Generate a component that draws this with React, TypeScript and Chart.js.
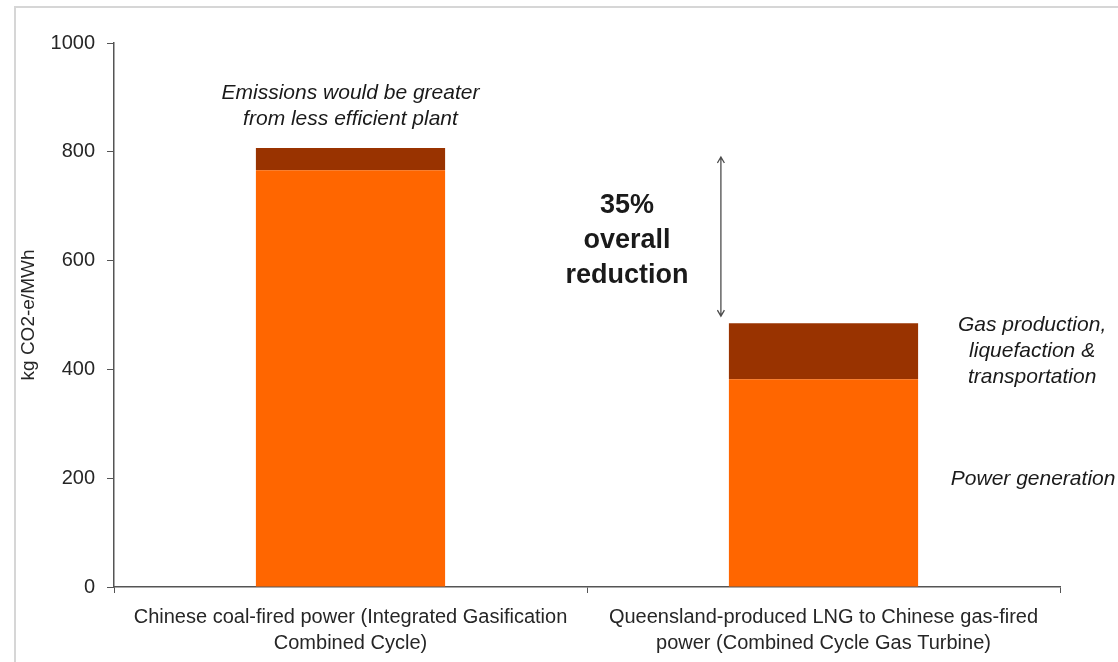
import React, { useEffect, useRef } from 'react';
import { Chart, registerables } from 'chart.js';

Chart.register(...registerables);

const categories = [
  ['Chinese coal-fired power (Integrated Gasification', 'Combined Cycle)'],
  ['Queensland-produced LNG to Chinese gas-fired', 'power (Combined Cycle Gas Turbine)'],
];
const seriesNames = ['Power generation', 'Gas production, liquefaction & transportation'];
const powerGeneration = [766, 382];
const supplyChain = [41, 103];
const yTickValues = [0, 200, 400, 600, 800, 1000];
const yAxisTitle = 'kg CO2-e/MWh';
const coalNote = ['Emissions would be greater', 'from less efficient plant'];
const reductionNote = ['35%', 'overall', 'reduction'];
const gasNote = ['Gas production,', 'liquefaction &', 'transportation'];
const powerNote = ['Power generation'];

const FONT = "'Liberation Sans', Arial, sans-serif";

const annotationPlugin = {
  id: 'annotations',
  beforeDraw(chart: any) {
    const ctx = chart.ctx;
    ctx.save();
    ctx.strokeStyle = '#d6d6d6';
    ctx.lineWidth = 2;
    ctx.beginPath();
    ctx.moveTo(15, chart.height);
    ctx.lineTo(15, 7);
    ctx.lineTo(chart.width, 7);
    ctx.stroke();
    ctx.restore();
  },
  afterDraw(chart: any) {
    const ctx = chart.ctx;
    const y = chart.scales.y;
    const x = chart.scales.x;
    const totals = powerGeneration.map((v, i) => v + supplyChain[i]);
    const barTop = chart.getDatasetMeta(1).data;
    ctx.save();
    ctx.fillStyle = '#1a1a1a';
    ctx.textAlign = 'center';
    ctx.textBaseline = 'middle';

    // coal note
    ctx.font = `italic 21px ${FONT}`;
    const coalTop = y.getPixelForValue(totals[0]);
    coalNote.forEach((t, i) => ctx.fillText(t, x.getPixelForValue(0), coalTop - 55 + i * 26));

    // reduction note
    const lngTop = y.getPixelForValue(totals[1]);
    const mid = (coalTop + lngTop) / 2;
    const midX = (x.getPixelForValue(0) + x.getPixelForValue(1)) / 2 + 40;
    ctx.font = `bold 27px ${FONT}`;
    reductionNote.forEach((t, i) => ctx.fillText(t, midX, mid - 30 + i * 35));

    // arrow
    const lngBar = barTop[1];
    const ax = lngBar.x - lngBar.width / 2 - 8;
    const a1 = coalTop + 9;
    const a2 = lngTop - 7;
    ctx.strokeStyle = '#4d4d4d';
    ctx.lineWidth = 1.3;
    ctx.beginPath();
    ctx.moveTo(ax, a1);
    ctx.lineTo(ax, a2);
    ctx.moveTo(ax - 3.5, a1 + 6);
    ctx.lineTo(ax, a1);
    ctx.lineTo(ax + 3.5, a1 + 6);
    ctx.moveTo(ax - 3.5, a2 - 6);
    ctx.lineTo(ax, a2);
    ctx.lineTo(ax + 3.5, a2 - 6);
    ctx.stroke();

    // gas note
    ctx.font = `italic 21px ${FONT}`;
    const rightX = lngBar.x + lngBar.width / 2 + 114;
    const segMid = y.getPixelForValue(powerGeneration[1] + supplyChain[1] / 2);
    gasNote.forEach((t, i) => ctx.fillText(t, rightX, segMid - 26 + i * 26));
    const powMid = y.getPixelForValue(powerGeneration[1] / 2);
    powerNote.forEach((t) => ctx.fillText(t, rightX + 1, powMid - 4));
    ctx.restore();
  },
};

export default function App() {
  const ref = useRef<HTMLCanvasElement>(null);
  useEffect(() => {
    if (!ref.current) return;
    const chart = new Chart(ref.current, {
      type: 'bar',
      data: {
        labels: categories as any,
        datasets: [
          {
            label: seriesNames[0],
            data: powerGeneration,
            backgroundColor: '#FF6600',
            categoryPercentage: 0.8,
            barPercentage: 0.5,
          },
          {
            label: seriesNames[1],
            data: supplyChain,
            backgroundColor: '#993300',
            categoryPercentage: 0.8,
            barPercentage: 0.5,
          },
        ],
      },
      options: {
        animation: false,
        responsive: true,
        maintainAspectRatio: false,
        layout: { padding: { top: 43, right: 58, left: 0, bottom: 0 } },
        plugins: { legend: { display: false }, tooltip: { enabled: false } },
        scales: {
          x: {
            stacked: true,
            afterFit: (s: any) => { s.height = 75; },
            grid: { drawOnChartArea: false, drawTicks: true, tickLength: 6, color: '#555', offset: true },
            border: { display: true, color: '#555', width: 1.5 },
            ticks: {
              color: '#262626',
              padding: 11,
              maxRotation: 0,
              autoSkip: false,
              font: { family: FONT, size: 20, lineHeight: 1.3 },
            },
          },
          y: {
            stacked: true,
            min: 0,
            max: 1000,
            afterFit: (s: any) => { s.width = 114; },
            afterBuildTicks: (s: any) => { s.ticks = yTickValues.map((v) => ({ value: v })); },
            grid: { drawOnChartArea: false, drawTicks: true, tickLength: 7, color: '#555' },
            border: { display: true, color: '#555', width: 1.5 },
            ticks: {
              color: '#262626',
              padding: 12,
              font: { family: FONT, size: 20 },
              callback: (v: any) => String(v),
            },
            title: {
              display: true,
              text: yAxisTitle,
              color: '#262626',
              padding: { top: 17, bottom: 0 },
              font: { family: FONT, size: 19 },
            },
          },
        },
      },
      plugins: [annotationPlugin],
    });
    return () => chart.destroy();
  }, []);
  return (
    <div style={{ position: 'fixed', left: 0, top: 0, width: 1118, height: 662, background: '#fff' }}>
      <canvas ref={ref} />
    </div>
  );
}
